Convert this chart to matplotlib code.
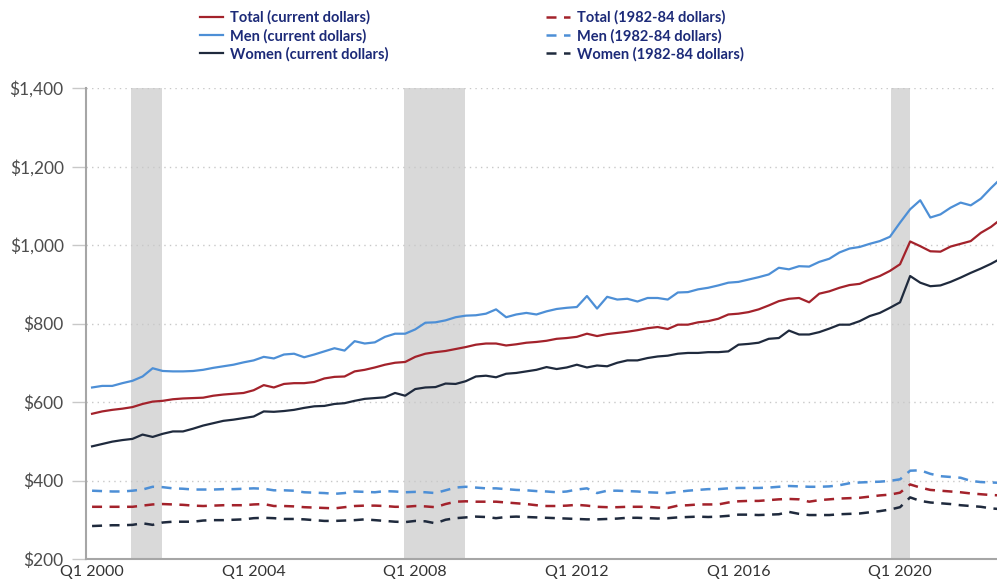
import matplotlib.pyplot as plt
import numpy as np

# quarterly median weekly earnings, Q1 2000 .. Q3 2022
quarters = np.arange(91)
tick_pos = [0, 16, 32, 48, 64, 80]
tick_labels = ["Q1 2000", "Q1 2004", "Q1 2008", "Q1 2012", "Q1 2016", "Q1 2020"]

total_cur = [570, 576, 580, 583, 587, 595, 601, 603, 607, 609, 610, 611, 616, 619, 621, 623,
             630, 643, 637, 646, 648, 648, 651, 660, 664, 665, 678, 682, 688, 695, 700, 702,
             715, 723, 727, 730, 735, 740, 746, 749, 749, 744, 747, 751, 753, 756, 761, 763,
             766, 774, 768, 773, 776, 779, 783, 788, 791, 786, 797, 797, 803, 806, 812, 823,
             825, 829, 836, 846, 857, 863, 865, 854, 876, 882, 891, 898, 901, 912, 921, 934,
             951, 1009, 997, 984, 983, 996, 1003, 1010, 1031, 1046, 1066]
men_cur = [637, 641, 641, 648, 654, 665, 686, 679, 678, 678, 679, 682, 687, 691, 695, 701,
           706, 715, 711, 721, 723, 714, 721, 729, 737, 731, 755, 749, 752, 766, 774, 774,
           785, 802, 803, 808, 816, 820, 821, 825, 836, 816, 823, 827, 823, 831, 837, 840,
           842, 870, 838, 868, 861, 863, 856, 865, 865, 861, 879, 880, 887, 891, 897, 904,
           906, 912, 918, 925, 942, 938, 946, 945, 957, 965, 981, 991, 995, 1003, 1010, 1021,
           1057, 1091, 1114, 1070, 1078, 1095, 1108, 1101, 1118, 1145, 1170]
women_cur = [487, 493, 499, 503, 506, 517, 511, 519, 525, 525, 532, 540, 546, 552, 555, 559,
             563, 576, 575, 577, 580, 585, 589, 590, 595, 597, 603, 608, 610, 612, 623, 616,
             633, 637, 638, 647, 646, 653, 665, 667, 663, 672, 674, 678, 682, 689, 684, 688,
             695, 688, 693, 691, 700, 706, 706, 712, 716, 718, 723, 725, 725, 727, 727, 729,
             746, 748, 751, 761, 763, 782, 772, 772, 778, 787, 797, 797, 806, 819, 827, 840,
             854, 921, 904, 895, 897, 906, 917, 929, 940, 952, 966]

# 1982-84 dollars
total_real = [333, 333, 333, 333, 333, 336, 339, 340, 339, 338, 336, 335, 336, 337, 337, 337,
              339, 340, 335, 335, 334, 332, 331, 330, 329, 332, 335, 336, 336, 335, 333, 333,
              335, 334, 332, 340, 346, 347, 346, 346, 346, 344, 342, 340, 337, 335, 335, 336,
              338, 336, 333, 332, 332, 333, 333, 333, 331, 330, 336, 337, 339, 339, 339, 344,
              347, 348, 348, 350, 352, 353, 352, 346, 350, 352, 354, 355, 356, 359, 362, 364,
              369, 390, 382, 376, 374, 372, 370, 367, 365, 363, 362]
men_real = [374, 373, 372, 372, 374, 377, 384, 383, 380, 379, 377, 377, 377, 378, 378, 379,
            380, 379, 375, 375, 374, 370, 369, 368, 366, 368, 372, 371, 370, 373, 372, 370,
            371, 370, 368, 375, 382, 384, 382, 380, 380, 378, 376, 375, 373, 372, 370, 372,
            377, 380, 368, 374, 374, 373, 372, 370, 369, 368, 371, 374, 376, 378, 378, 380,
            381, 381, 381, 382, 384, 386, 385, 384, 384, 385, 388, 393, 395, 396, 397, 399,
            403, 425, 426, 417, 411, 409, 407, 399, 396, 395, 394]
women_real = [284, 285, 286, 286, 287, 291, 287, 293, 295, 295, 295, 298, 299, 299, 300, 301,
              304, 305, 304, 302, 302, 301, 299, 297, 297, 298, 299, 301, 299, 297, 295, 294,
              297, 296, 291, 300, 304, 306, 308, 307, 304, 307, 308, 307, 306, 305, 304, 303,
              302, 301, 301, 302, 303, 305, 305, 304, 303, 304, 306, 307, 308, 307, 308, 310,
              313, 313, 312, 313, 314, 320, 315, 312, 312, 312, 314, 315, 316, 319, 322, 326,
              332, 357, 348, 344, 342, 340, 337, 335, 333, 329, 327]

# recessions, in quarter units
recessions = [(3.9, 6.9), (30.9, 36.9), (79.1, 81.0)]

RED = "#a3222b"
BLUE = "#4d8fd6"
NAVY = "#1f2a3d"

plt.rcParams['font.family'] = ['Lato', 'DejaVu Sans']

fig = plt.figure(figsize=(9.97, 5.85), dpi=100)
ax = fig.add_axes([86 / 997, 1 - 559 / 585, 1 - 86 / 997, (559 - 88) / 585])

for a, b in recessions:
    ax.axvspan(a, b, color="#d9d9d9", lw=0, zorder=0)

l1, = ax.plot(quarters, total_cur, color=RED, lw=1.6)
l2, = ax.plot(quarters, men_cur, color=BLUE, lw=1.6)
l3, = ax.plot(quarters, women_cur, color=NAVY, lw=1.6)
l4, = ax.plot(quarters, total_real, color=RED, lw=1.8, dashes=(4, 3))
l5, = ax.plot(quarters, men_real, color=BLUE, lw=1.8, dashes=(4, 3))
l6, = ax.plot(quarters, women_real, color=NAVY, lw=1.8, dashes=(4, 3))

ax.set_xlim(-0.6, 89.6)
ax.set_ylim(200, 1400)
ax.set_yticks(range(200, 1401, 200))
ax.set_yticklabels(["${:,}".format(v) for v in range(200, 1401, 200)])
ax.set_xticks(tick_pos)
ax.set_xticklabels(tick_labels)

ax.grid(axis="y", color="#c8c8c8", ls=(0, (1, 3)), lw=1)
ax.set_axisbelow(True)
for s in ["top", "right"]:
    ax.spines[s].set_visible(False)
for s in ["left", "bottom"]:
    ax.spines[s].set_color("#a6a6a6")
    ax.spines[s].set_linewidth(1.5)
ax.tick_params(axis="y", length=10, color="#c8c8c8", width=1, labelsize=12.5,
               labelcolor="#4d4d4d", pad=6)
# reference clips these a bit at the bottom edge; keep them fully inside
ax.tick_params(axis="x", length=0, labelsize=11.5, labelcolor="#333333", pad=4)

leg = fig.legend([l1, l2, l3, l4, l5, l6],
                 ["Total (current dollars)", "Men (current dollars)", "Women (current dollars)",
                  "Total (1982-84 dollars)", "Men (1982-84 dollars)", "Women (1982-84 dollars)"],
                 ncol=2, loc="upper left", bbox_to_anchor=(194 / 997, 0.992), frameon=False,
                 fontsize=10.5, handlelength=1.6, handletextpad=0.5, columnspacing=10.8,
                 labelspacing=0.25, borderaxespad=0)
for t in leg.get_texts():
    t.set_color("#1c2a78")
    t.set_fontweight("bold")

plt.savefig("out.png", dpi=100)
